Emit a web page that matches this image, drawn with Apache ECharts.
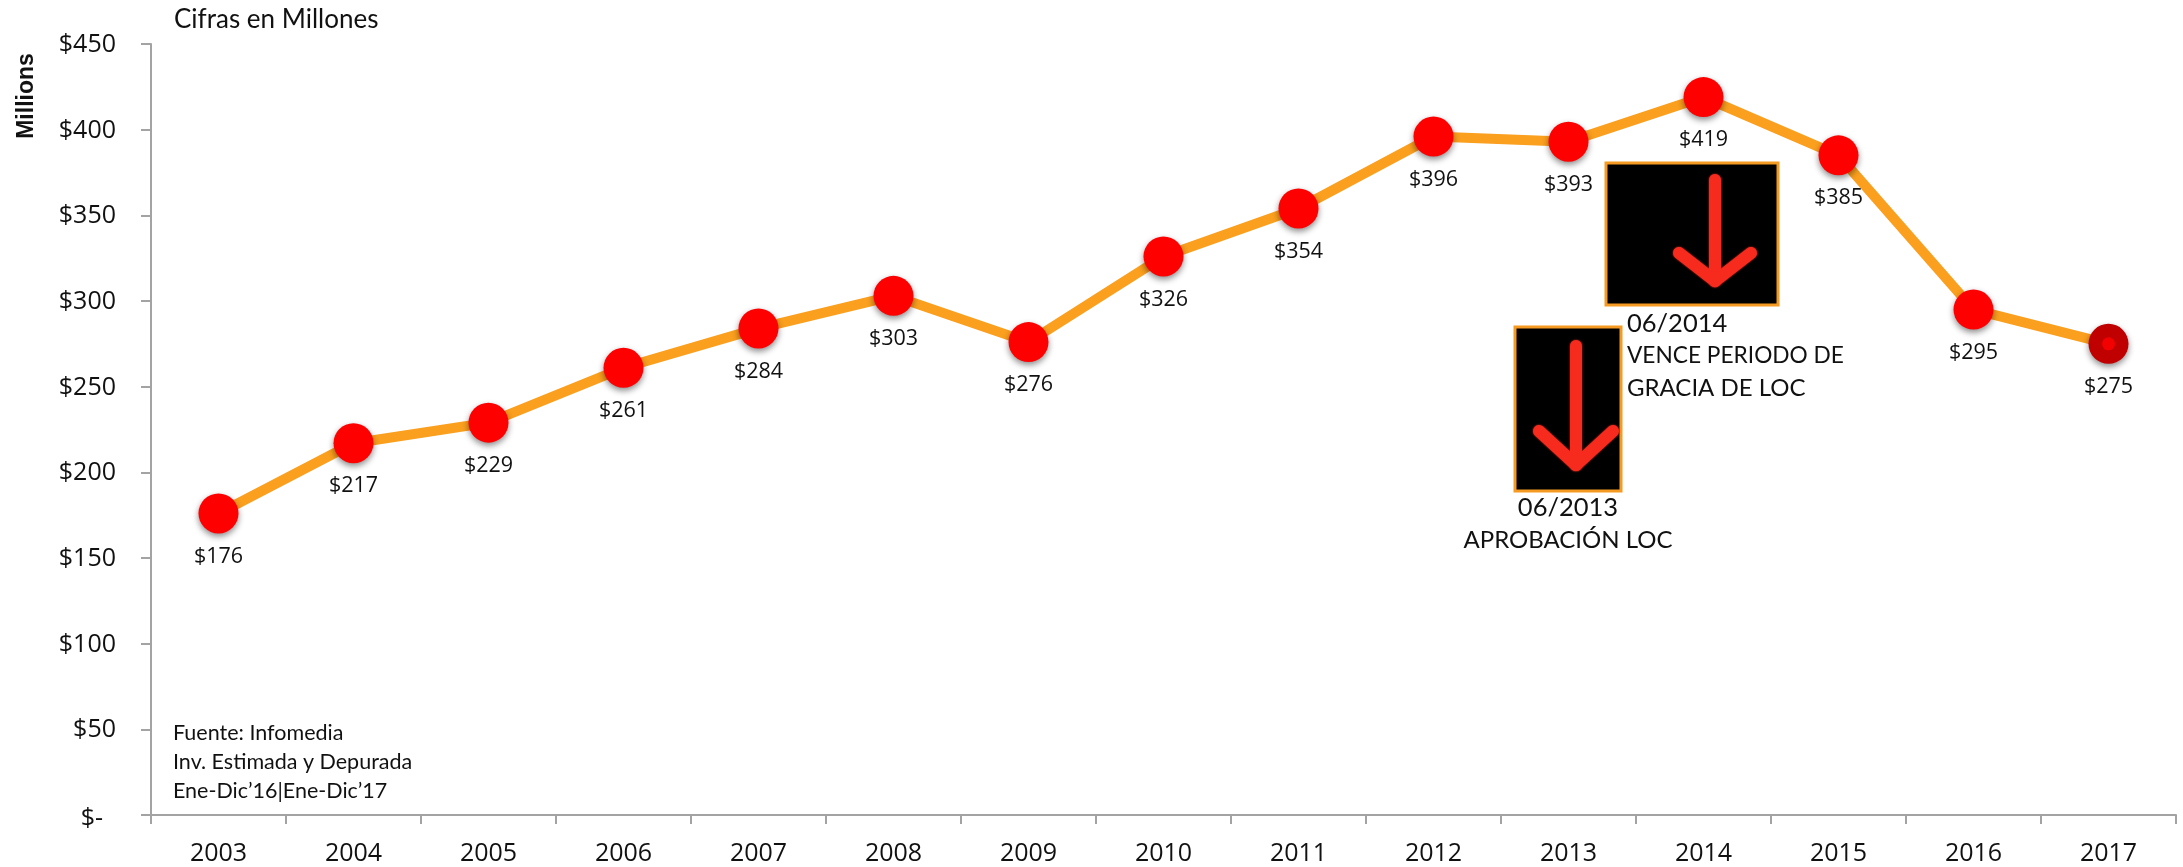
<!DOCTYPE html>
<html>
<head>
<meta charset="utf-8">
<style>html,body{margin:0;padding:0;background:#fff}#chart{width:2183px;height:867px}</style>
<script src="https://cdn.jsdelivr.net/npm/echarts@6/dist/echarts.min.js"></script>
</head>
<body>
<div id="chart"></div>
<script>
// Annual investment, in millions
const years = ['2003','2004','2005','2006','2007','2008','2009','2010','2011','2012','2013','2014','2015','2016','2017'];
const investment = [176,217,229,261,284,303,276,326,354,396,393,419,385,295,275];
const yTicks = { min: 0, max: 450, interval: 50 };
const unitNote = 'Cifras en Millones';
const axisTitle = 'Millions';
const sourceNote = ['Fuente: Infomedia', 'Inv. Estimada y Depurada', 'Ene-Dic’16|Ene-Dic’17'];
const note2013 = ['06/2013', 'APROBACIÓN LOC'];
const note2014 = ['06/2014', 'VENCE PERIODO DE', 'GRACIA DE LOC'];

const ORANGE = '#fa9f1e', RED = '#ff0000', DARK_RED = '#c00000', AXIS = '#a3a3a3', INK = '#111';
const NOTE_FONT = 'Lato', NUM_FONT = 'Open Sans';
const lastIndex = investment.length - 1;

function text(x, y, str, size, extra) {
  return { type: 'text', x, y, z: 20, style: Object.assign({
    text: str, fontFamily: NOTE_FONT, fontSize: size, fill: INK, verticalAlign: 'middle'
  }, extra || {}) };
}

// Black panel holding a glowing red down arrow
function arrowPanel(x, y, w, h, shaftX, shaftTop, tipY, armY, armHalf) {
  const stroke = { stroke: '#f62b1e', lineWidth: 12, lineCap: 'round', lineJoin: 'round', fill: null,
                   shadowBlur: 2, shadowColor: '#f62b1e' };
  return [
    { type: 'rect', z: 10, shape: { x, y, width: w, height: h },
      style: { fill: '#000', stroke: '#f59a23', lineWidth: 3 } },
    { type: 'polyline', z: 11, shape: { points: [[shaftX, shaftTop], [shaftX, tipY]] }, style: stroke },
    { type: 'polyline', z: 11, shape: { points: [[shaftX - armHalf, armY], [shaftX, tipY], [shaftX + armHalf, armY]] }, style: stroke }
  ];
}

const chart = echarts.init(document.getElementById('chart'), null, { renderer: 'canvas' });
chart.setOption({
  animation: false,
  backgroundColor: '#fff',
  grid: { left: 151, right: 7, top: 44, bottom: 52, containLabel: false },
  xAxis: {
    type: 'category', data: years, boundaryGap: true,
    axisLine: { lineStyle: { color: AXIS, width: 2 } },
    axisTick: { show: true, length: 9, alignWithLabel: false, lineStyle: { color: AXIS, width: 2 } },
    axisLabel: { fontFamily: NUM_FONT, fontSize: 25, color: INK, margin: 26, interval: 0 },
    splitLine: { show: false }
  },
  yAxis: {
    type: 'value', min: yTicks.min, max: yTicks.max, interval: yTicks.interval,
    axisLine: { show: true, lineStyle: { color: AXIS, width: 2 } },
    axisTick: { show: true, length: 10, lineStyle: { color: AXIS, width: 2 } },
    axisLabel: { fontFamily: NUM_FONT, fontSize: 25, color: INK, margin: 35, padding: [2, 0, 0, 0],
      formatter: v => v === 0 ? '{zero|$-  }' : '$' + v,
      rich: { zero: { fontFamily: NUM_FONT, fontSize: 25, color: INK, padding: [6, 0, 0, 0] } } },
    splitLine: { show: false }
  },
  series: [
    {
      type: 'line', data: investment.map((v, i) => i === lastIndex
        ? { value: v, itemStyle: { color: DARK_RED } } : v),
      symbol: 'circle', symbolSize: 40, showSymbol: true,
      lineStyle: { color: ORANGE, width: 10 },
      itemStyle: { color: RED, shadowBlur: 6, shadowOffsetY: 3, shadowColor: 'rgba(0,0,0,0.45)' },
      label: { show: true, position: 'bottom', distance: 12, fontFamily: NUM_FONT, fontSize: 21.5,
        color: INK, formatter: p => '$' + p.value },
      z: 3
    },
    {
      // Bright centre of the latest year's marker
      type: 'scatter', data: [[lastIndex, investment[lastIndex]]], symbol: 'circle', symbolSize: 13,
      itemStyle: { color: RED }, silent: true, z: 4
    }
  ],
  graphic: [
    text(174, 20, unitNote, 26),
    { type: 'text', x: 27, y: 96, rotation: Math.PI / 2, z: 20, style: {
      text: axisTitle, fontFamily: 'Liberation Sans', fontWeight: 'bold', fontSize: 23, fill: INK,
      align: 'center', verticalAlign: 'middle' } },
    ...sourceNote.map((s, i) => text(173, 733 + i * 29, s, 21.5)),
    ...arrowPanel(1606, 163, 172, 142, 1715, 180, 281, 253, 36),
    ...arrowPanel(1515, 327, 106, 164, 1576, 346, 465, 431, 37),
    text(1568, 508, note2013[0], 25.5, { align: 'center' }),
    text(1568, 540, note2013[1], 24, { align: 'center' }),
    text(1627, 324, note2014[0], 25.5),
    text(1627, 356, note2014[1], 22.7),
    text(1627, 388, note2014[2], 24)
  ]
});
</script>
</body>
</html>
